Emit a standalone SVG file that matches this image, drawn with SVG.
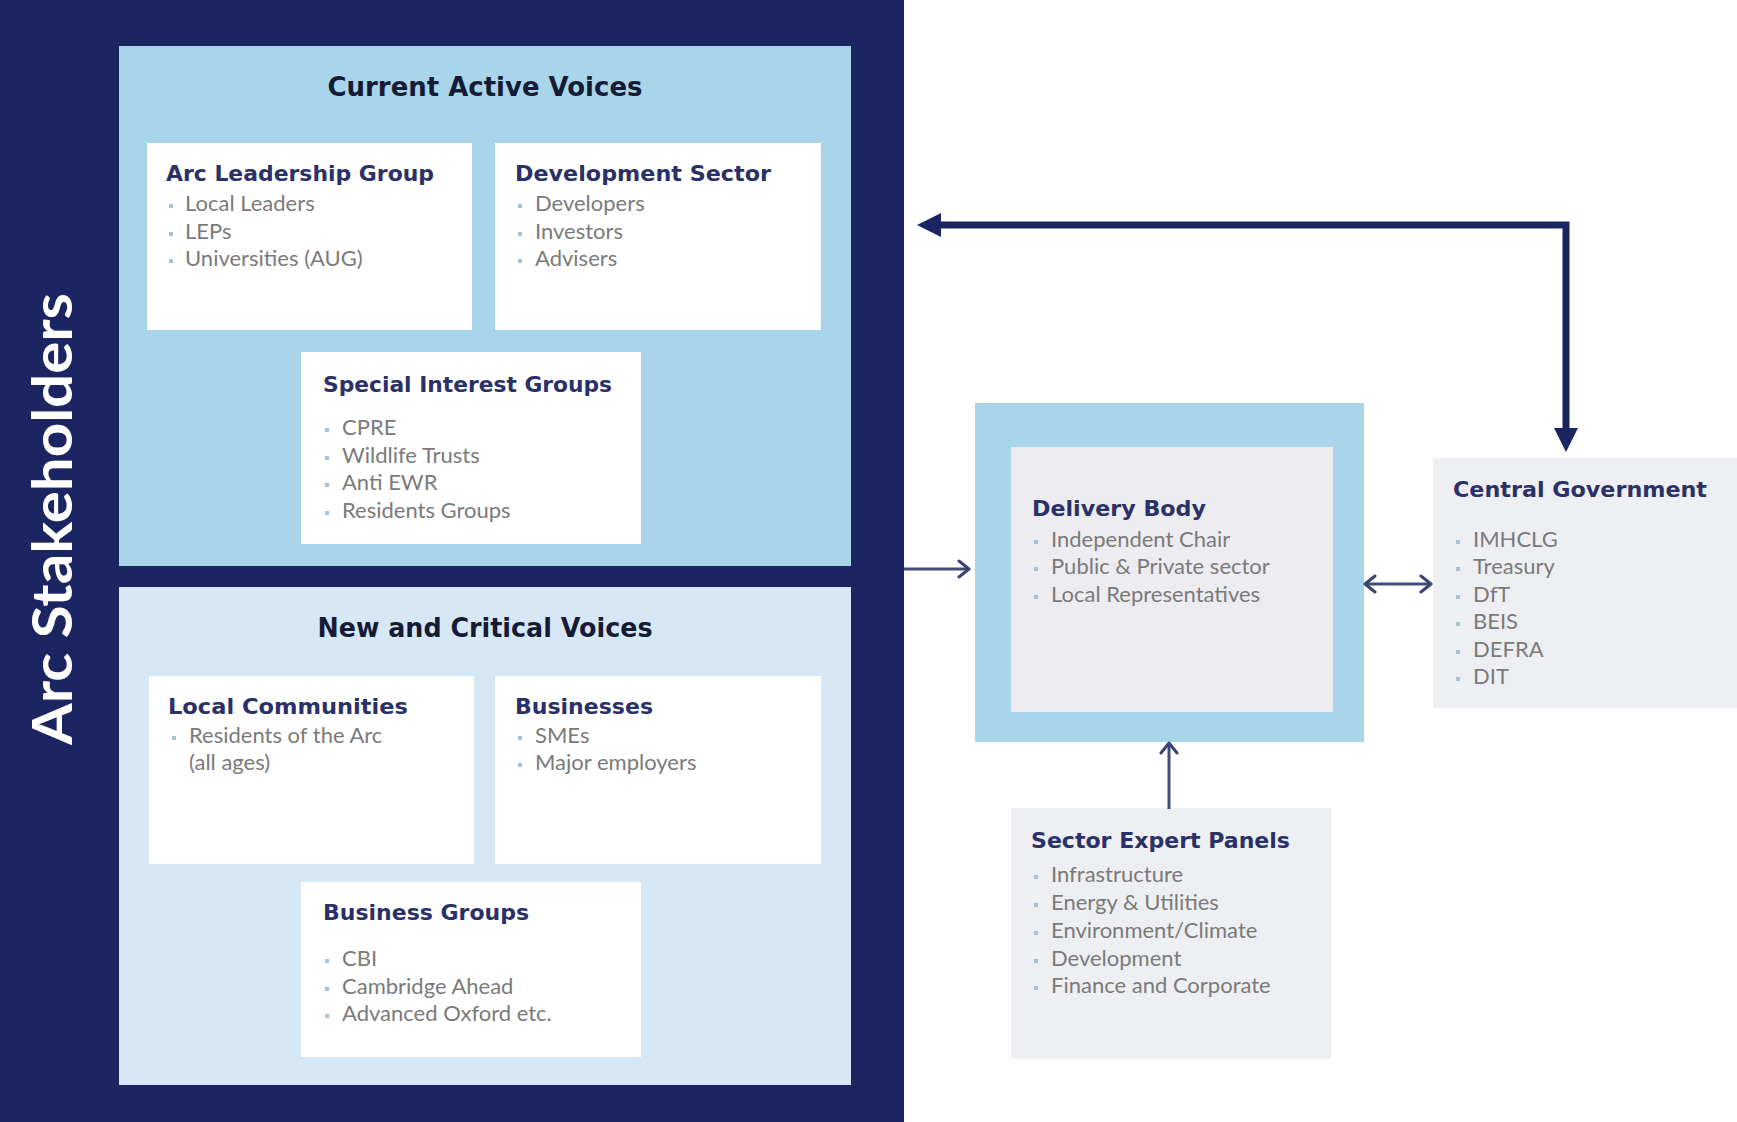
<svg xmlns="http://www.w3.org/2000/svg" width="1737" height="1122" viewBox="0 0 1737 1122">
<style>
.bg{fill:#ffffff}
.navy{fill:#1b2561}
.panelA{fill:#a9d5eb}
.panelB{fill:#d6e8f6}
.card{fill:#ffffff}
.grey{fill:#eeeff2}
.sec{font-family:"DejaVu Sans",sans-serif;font-weight:bold;font-size:26px;fill:#161b35}
.ttl{font-family:"DejaVu Sans",sans-serif;font-weight:bold;font-size:21.5px;fill:#2a3068}
.itm{font-family:Lato,"Liberation Sans",sans-serif;font-size:22px;fill:#7a7a7a}
.bul{fill:#a9c2d0}
.big{font-family:Lato,"DejaVu Sans",sans-serif;font-weight:bold;font-size:56px;fill:#ffffff}
.thick{fill:none;stroke:#1b2561;stroke-width:7;stroke-linejoin:miter}
.thin{fill:none;stroke:#434c78;stroke-width:3}
</style>
<defs>
<marker id="tri" viewBox="0 0 24 24" markerWidth="24" markerHeight="24" refX="0" refY="12" markerUnits="userSpaceOnUse" orient="auto-start-reverse">
<path d="M0,0 L24,12 L0,24 z" fill="#1b2561"/>
</marker>
<marker id="chev" viewBox="0 0 14 20" markerWidth="14" markerHeight="20" refX="12" refY="10" markerUnits="userSpaceOnUse" orient="auto-start-reverse">
<path d="M2,2 L12,10 L2,18" fill="none" stroke="#3a4372" stroke-width="3" stroke-linecap="round" stroke-linejoin="round"/>
</marker>
</defs>
<rect class="bg" x="0" y="0" width="1737" height="1122"/>

<g id="arc-stakeholders">
<rect class="navy" x="0" y="0" width="904" height="1122"/>
<text class="big" transform="translate(72,519) rotate(-90)" text-anchor="middle" textLength="452" lengthAdjust="spacingAndGlyphs">Arc Stakeholders</text>
</g>

<g id="current-active-voices">
<rect class="panelA" x="119" y="46" width="732" height="520"/>
<text class="sec" x="485" y="96" text-anchor="middle" textLength="315" lengthAdjust="spacingAndGlyphs">Current Active Voices</text>
</g>

<g id="arc-leadership-group">
<rect class="card" x="147" y="143" width="325" height="187"/>
<text class="ttl" x="166" y="181" textLength="268" lengthAdjust="spacingAndGlyphs">Arc Leadership Group</text>
<rect class="bul" x="169" y="204" width="4" height="4"/><text class="itm" x="185" y="211">Local Leaders</text>
<rect class="bul" x="169" y="232" width="4" height="4"/><text class="itm" x="185" y="239">LEPs</text>
<rect class="bul" x="169" y="259" width="4" height="4"/><text class="itm" x="185" y="266">Universities (AUG)</text>
</g>

<g id="development-sector">
<rect class="card" x="495" y="143" width="326" height="187"/>
<text class="ttl" x="515" y="181" textLength="256" lengthAdjust="spacingAndGlyphs">Development Sector</text>
<rect class="bul" x="518" y="204" width="4" height="4"/><text class="itm" x="535" y="211">Developers</text>
<rect class="bul" x="518" y="232" width="4" height="4"/><text class="itm" x="535" y="239">Investors</text>
<rect class="bul" x="518" y="259" width="4" height="4"/><text class="itm" x="535" y="266">Advisers</text>
</g>

<g id="special-interest-groups">
<rect class="card" x="301" y="352" width="340" height="192"/>
<text class="ttl" x="323" y="392" textLength="289" lengthAdjust="spacingAndGlyphs">Special Interest Groups</text>
<rect class="bul" x="325" y="428" width="4" height="4"/><text class="itm" x="342" y="435">CPRE</text>
<rect class="bul" x="325" y="456" width="4" height="4"/><text class="itm" x="342" y="463">Wildlife Trusts</text>
<rect class="bul" x="325" y="483" width="4" height="4"/><text class="itm" x="342" y="490">Anti EWR</text>
<rect class="bul" x="325" y="511" width="4" height="4"/><text class="itm" x="342" y="518">Residents Groups</text>
</g>

<g id="new-critical-voices">
<rect class="panelB" x="119" y="587" width="732" height="498"/>
<text class="sec" x="485" y="637" text-anchor="middle" textLength="335" lengthAdjust="spacingAndGlyphs">New and Critical Voices</text>
</g>

<g id="local-communities">
<rect class="card" x="149" y="676" width="325" height="188"/>
<text class="ttl" x="168" y="714" textLength="240" lengthAdjust="spacingAndGlyphs">Local Communities</text>
<rect class="bul" x="172" y="736" width="4" height="4"/><text class="itm" x="189" y="743">Residents of the Arc</text>
<text class="itm" x="189" y="770">(all ages)</text>
</g>

<g id="businesses">
<rect class="card" x="495" y="676" width="326" height="188"/>
<text class="ttl" x="515" y="714" textLength="138" lengthAdjust="spacingAndGlyphs">Businesses</text>
<rect class="bul" x="518" y="736" width="4" height="4"/><text class="itm" x="535" y="743">SMEs</text>
<rect class="bul" x="518" y="763" width="4" height="4"/><text class="itm" x="535" y="770">Major employers</text>
</g>

<g id="business-groups">
<rect class="card" x="301" y="882" width="340" height="175"/>
<text class="ttl" x="323" y="920" textLength="206" lengthAdjust="spacingAndGlyphs">Business Groups</text>
<rect class="bul" x="325" y="959" width="4" height="4"/><text class="itm" x="342" y="966">CBI</text>
<rect class="bul" x="325" y="987" width="4" height="4"/><text class="itm" x="342" y="994">Cambridge Ahead</text>
<rect class="bul" x="325" y="1014" width="4" height="4"/><text class="itm" x="342" y="1021">Advanced Oxford etc.</text>
</g>

<g id="delivery-body">
<rect class="panelA" x="975" y="403" width="389" height="339"/>
<rect fill="#ededf1" x="1011" y="447" width="322" height="265"/>
<text class="ttl" x="1032" y="516" textLength="174" lengthAdjust="spacingAndGlyphs">Delivery Body</text>
<rect class="bul" x="1034" y="540" width="4" height="4"/><text class="itm" x="1051" y="547">Independent Chair</text>
<rect class="bul" x="1034" y="567" width="4" height="4"/><text class="itm" x="1051" y="574">Public &amp; Private sector</text>
<rect class="bul" x="1034" y="595" width="4" height="4"/><text class="itm" x="1051" y="602">Local Representatives</text>
</g>

<g id="central-government">
<rect class="grey" x="1433" y="458" width="304" height="250"/>
<text class="ttl" x="1453" y="497" textLength="254" lengthAdjust="spacingAndGlyphs">Central Government</text>
<rect class="bul" x="1456" y="540" width="4" height="4"/><text class="itm" x="1473" y="547">IMHCLG</text>
<rect class="bul" x="1456" y="567" width="4" height="4"/><text class="itm" x="1473" y="574">Treasury</text>
<rect class="bul" x="1456" y="595" width="4" height="4"/><text class="itm" x="1473" y="602">DfT</text>
<rect class="bul" x="1456" y="622" width="4" height="4"/><text class="itm" x="1473" y="629">BEIS</text>
<rect class="bul" x="1456" y="650" width="4" height="4"/><text class="itm" x="1473" y="657">DEFRA</text>
<rect class="bul" x="1456" y="677" width="4" height="4"/><text class="itm" x="1473" y="684">DIT</text>
</g>

<g id="sector-expert-panels">
<rect class="grey" x="1011" y="808" width="320" height="251"/>
<text class="ttl" x="1031" y="848" textLength="259" lengthAdjust="spacingAndGlyphs">Sector Expert Panels</text>
<rect class="bul" x="1034" y="875" width="4" height="4"/><text class="itm" x="1051" y="882">Infrastructure</text>
<rect class="bul" x="1034" y="903" width="4" height="4"/><text class="itm" x="1051" y="910">Energy &amp; Utilities</text>
<rect class="bul" x="1034" y="931" width="4" height="4"/><text class="itm" x="1051" y="938">Environment/Climate</text>
<rect class="bul" x="1034" y="959" width="4" height="4"/><text class="itm" x="1051" y="966">Development</text>
<rect class="bul" x="1034" y="986" width="4" height="4"/><text class="itm" x="1051" y="993">Finance and Corporate</text>
</g>

<g id="connectors">
<path class="thick" d="M941,225 H1566 V428" marker-start="url(#tri)" marker-end="url(#tri)"/>
<path class="thin" d="M904,569 H969" marker-end="url(#chev)"/>
<path class="thin" d="M1365,584 H1431" marker-start="url(#chev)" marker-end="url(#chev)"/>
<path class="thin" d="M1169,809 V743" marker-end="url(#chev)"/>
</g>
</svg>
